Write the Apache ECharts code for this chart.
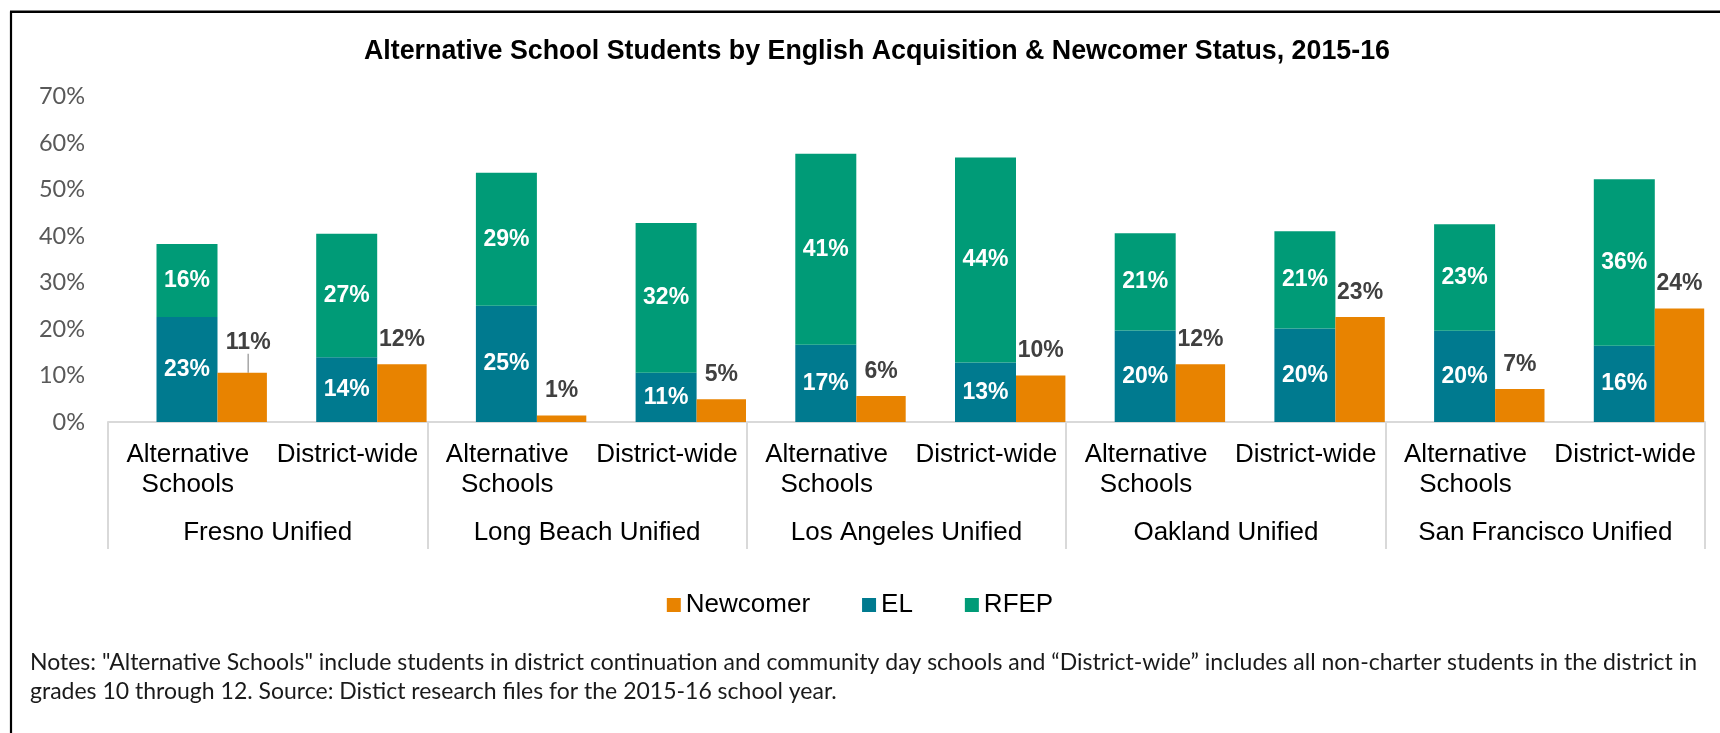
<!DOCTYPE html>
<html><head><meta charset="utf-8">
<script src="https://cdn.jsdelivr.net/npm/echarts@6/dist/echarts.min.js"></script>
<style>html,body{margin:0;padding:0;background:#fff}#c{width:1720px;height:733px}</style>
</head><body><div id="c"></div>
<script>
// ---- data ----
const subCategories = ['Alternative\nSchools','District-wide','Alternative\nSchools','District-wide','Alternative\nSchools','District-wide','Alternative\nSchools','District-wide','Alternative\nSchools','District-wide'];
const districts = ['Fresno Unified','Long Beach Unified','Los Angeles Unified','Oakland Unified','San Francisco Unified'];
const elValues       = [22.6, 13.9, 25.0, 10.6, 16.6, 12.8, 19.7, 20.1, 19.6, 16.4];
const rfepValues     = [15.7, 26.6, 28.6, 32.2, 41.1, 44.1, 20.9, 20.9, 22.9, 35.8];
const newcomerValues = [10.6, 12.4,  1.4,  4.9,  5.6, 10.0, 12.4, 22.6,  7.1, 24.4];
const yMin = 0, yMax = 70, yStep = 10;
const titleText = 'Alternative School Students by English Acquisition & Newcomer Status, 2015-16';
const notesLines = [
  'Notes: "Alternative Schools" include students in district continuation and community day schools and \u201cDistrict-wide\u201d includes all non-charter students in the district in',
  'grades 10 through 12. Source: Distict research files for the 2015-16 school year.'
];

// ---- chart ----
const ARIAL = '"Liberation Sans", Arial, sans-serif';
const CAL = 'Lato, "Open Sans", sans-serif';
const gridBox = {left: 108, top: 96.5, width: 1597, height: 325.5};
const chart = echarts.init(document.getElementById('c'), null, {renderer: 'canvas'});
const pct = p => Math.round(p.value) + '%';

// the first newcomer label is pulled up with a leader line, as in the source
const newcomerData = newcomerValues.map((v, i) => i === 0
  ? {value: v, labelLine: {show: true, lineStyle: {color: '#a6a6a6', width: 1.5}}}
  : {value: v});

chart.setOption({
  animation: false,
  backgroundColor: '#fff',
  title: {
    text: titleText, left: 359, top: 33,
    textStyle: {fontFamily: ARIAL, fontWeight: 'bold', fontSize: 26.8, color: '#000'}
  },
  legend: {
    data: ['Newcomer', 'EL', 'RFEP'],
    left: 'center', top: 587,
    icon: 'rect', itemWidth: 14, itemHeight: 14, itemGap: 52,
    textStyle: {fontFamily: ARIAL, fontSize: 26, color: '#000'}
  },
  grid: [Object.assign({}, gridBox), Object.assign({}, gridBox)],
  xAxis: [
    {gridIndex: 0, type: 'category', data: subCategories,
     axisLine: {lineStyle: {color: '#d9d9d9', width: 2}},
     axisTick: {show: false},
     axisLabel: {interval: 0, color: '#000', fontFamily: ARIAL, fontSize: 26, lineHeight: 30, margin: 18}},
    {gridIndex: 1, type: 'category', data: districts,
     axisLine: {show: false},
     axisTick: {show: true, length: 127, lineStyle: {color: '#d9d9d9', width: 2}},
     axisLabel: {interval: 0, color: '#000', fontFamily: ARIAL, fontSize: 26, margin: 111, verticalAlign: 'middle'}}
  ],
  yAxis: [
    {gridIndex: 0, type: 'value', min: yMin, max: yMax, interval: yStep,
     splitLine: {show: false}, axisLine: {show: false}, axisTick: {show: false},
     axisLabel: {formatter: '{value}%', color: '#595959', fontFamily: CAL, fontSize: 23.5, margin: 23}},
    {gridIndex: 1, type: 'value', min: yMin, max: yMax, interval: yStep, show: false}
  ],
  series: [
    // empty spacer column: keeps the stacked/newcomer pair right of centre, as in the source
    {name: 'spacer', type: 'bar', barWidth: 47.7, barGap: '0%', data: [], silent: true},
    {name: 'EL', type: 'bar', stack: 'a', barWidth: 61, barGap: '0%',
     data: elValues, itemStyle: {color: '#007A8F'},
     label: {show: true, position: 'inside', formatter: pct, color: '#fff', fontFamily: ARIAL, fontWeight: 'bold', fontSize: 23}},
    {name: 'RFEP', type: 'bar', stack: 'a', barWidth: 61, barGap: '0%',
     data: rfepValues, itemStyle: {color: '#009B77'},
     label: {show: true, position: 'inside', formatter: pct, color: '#fff', fontFamily: ARIAL, fontWeight: 'bold', fontSize: 23}},
    {name: 'Newcomer', type: 'bar', barWidth: 49.4, barGap: '0%',
     data: newcomerData, itemStyle: {color: '#E88300'},
     label: {show: true, position: 'top', distance: 13, formatter: pct, color: '#404040', fontFamily: ARIAL, fontWeight: 'bold', fontSize: 23},
     labelLayout: function (p) { return p.dataIndex === 0 ? {dx: 6, dy: -6} : {}; },
     labelLine: {show: false}}
  ],
  graphic: [
    {type: 'line', shape: {x1: 11, y1: 11.5, x2: 11, y2: 733}, style: {stroke: '#000', lineWidth: 2.2}, silent: true},
    {type: 'line', shape: {x1: 10, y1: 11.7, x2: 1720, y2: 11.7}, style: {stroke: '#000', lineWidth: 2.5}, silent: true},
    {type: 'text', x: 30, y: 662.5, style: {text: notesLines[0], font: '23px ' + CAL, fill: '#1a1a1a', verticalAlign: 'middle'}},
    {type: 'text', x: 30, y: 691.5, style: {text: notesLines[1], font: '23px ' + CAL, fill: '#1a1a1a', verticalAlign: 'middle'}}
  ]
});
</script></body></html>
